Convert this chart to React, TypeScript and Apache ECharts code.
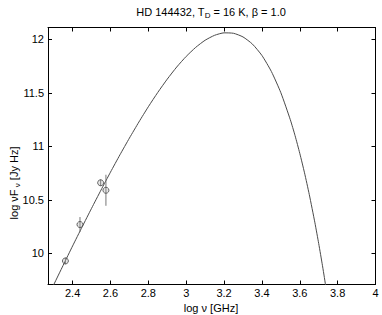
import React, { useEffect, useRef } from "react";
import * as echarts from "echarts";

const curveX = [2.27, 2.28, 2.3, 2.35, 2.4, 2.45, 2.5, 2.55, 2.6, 2.65, 2.7, 2.75, 2.8, 2.85, 2.9, 2.95, 3.0, 3.05, 3.1, 3.15, 3.2, 3.25, 3.3, 3.35, 3.4, 3.45, 3.5, 3.55, 3.575, 3.6, 3.625, 3.65, 3.68, 3.7, 3.72, 3.73, 3.74, 3.75];
const curveY = [9.6, 9.634, 9.707, 9.889, 10.07, 10.247, 10.421, 10.592, 10.759, 10.921, 11.077, 11.227, 11.37, 11.504, 11.628, 11.741, 11.84, 11.924, 11.991, 12.037, 12.06, 12.056, 12.022, 11.955, 11.849, 11.699, 11.501, 11.249, 11.101, 10.935, 10.753, 10.552, 10.286, 10.092, 9.885, 9.775, 9.66, 9.545];

const pointX = [2.362, 2.439, 2.548, 2.576];
const pointY = [9.93, 10.27, 10.66, 10.59];
const pointErr = [0.03, 0.07, 0.03, 0.145];

const xTicks = [2.4, 2.6, 2.8, 3, 3.2, 3.4, 3.6, 3.8, 4];
const yTicks = [10, 10.5, 11, 11.5, 12];

const FONT = "'Liberation Sans', Arial, Helvetica, sans-serif";

export default function App() {
  const ref = useRef<HTMLDivElement>(null);
  useEffect(() => {
    if (!ref.current) return;
    const chart = echarts.init(ref.current, undefined, { renderer: "svg" });
    const axisLine = { show: true, lineStyle: { color: "#000", width: 1 } };
    const xBase = {
      type: "value" as const,
      min: 2.27,
      max: 4,
      splitLine: { show: false },
      axisLine,
      axisTick: { show: true, inside: true, length: 4, customValues: xTicks, lineStyle: { color: "#000" } },
    };
    const yBase = {
      type: "value" as const,
      min: 9.71,
      max: 12.11,
      splitLine: { show: false },
      axisLine,
      axisTick: { show: true, inside: true, length: 4, customValues: yTicks, lineStyle: { color: "#000" } },
    };
    chart.setOption({
      animation: false,
      grid: { left: 48, right: 6.5, top: 27.5, bottom: 30.5, containLabel: false },
      xAxis: [
        {
          ...xBase,
          position: "bottom",
          axisLabel: {
            show: true,
            customValues: xTicks,
            formatter: (v: number) => String(v),
            color: "#000",
            fontSize: 11,
            fontFamily: FONT,
            margin: 3,
          },
        },
        { ...xBase, position: "top", axisLabel: { show: false } },
      ],
      yAxis: [
        {
          ...yBase,
          position: "left",
          axisLabel: {
            show: true,
            customValues: yTicks,
            formatter: (v: number) => String(v),
            color: "#000",
            fontSize: 11,
            fontFamily: FONT,
            margin: 4,
          },
        },
        { ...yBase, position: "right", axisLabel: { show: false } },
      ],
      graphic: [
        {
          type: "text",
          x: 211,
          y: 12,
          style: {
            text: "HD 144432, T{sub|D} = 16 K, β = 1.0",
            fontSize: 11,
            fontFamily: FONT,
            fill: "#000",
            align: "center",
            verticalAlign: "middle",
            rich: { sub: { fontSize: 8, padding: [6, 0, 0, 0], fontFamily: FONT } },
          },
        },
        {
          type: "text",
          x: 211,
          y: 307.5,
          style: {
            text: "log ν [GHz]",
            fontSize: 11,
            fontFamily: FONT,
            fill: "#000",
            align: "center",
            verticalAlign: "middle",
          },
        },
        {
          type: "text",
          x: 14,
          y: 183,
          rotation: Math.PI / 2,
          style: {
            text: "log νF{sub| ν} [Jy Hz]",
            fontSize: 11,
            fontFamily: FONT,
            fill: "#000",
            align: "center",
            verticalAlign: "middle",
            rich: { sub: { fontSize: 8, padding: [6, 0, 0, 0], fontFamily: FONT } },
          },
        },
      ],
      series: [
        {
          type: "line",
          data: curveX.map((x, i) => [x, curveY[i]]),
          showSymbol: false,
          smooth: 0.2,
          lineStyle: { color: "#4a4a4a", width: 1 },
          clip: true,
          z: 2,
        },
        {
          type: "custom",
          data: pointX.map((x, i) => [x, pointY[i], pointErr[i]]),
          clip: true,
          z: 3,
          renderItem: (params: any, api: any) => {
            const x = api.value(0);
            const y = api.value(1);
            const e = api.value(2);
            const top = api.coord([x, y + e]);
            const bot = api.coord([x, y - e]);
            return {
              type: "line",
              shape: { x1: top[0], y1: top[1], x2: bot[0], y2: bot[1] },
              style: { stroke: "#777", lineWidth: 1 },
            };
          },
        },
        {
          type: "scatter",
          data: pointX.map((x, i) => [x, pointY[i]]),
          symbol: "circle",
          symbolSize: 6,
          itemStyle: { color: "rgba(160,160,160,0.35)", borderColor: "#444", borderWidth: 1 },
          z: 4,
        },
      ],
    });
    return () => chart.dispose();
  }, []);
  return <div ref={ref} style={{ position: "fixed", left: 0, top: 0, width: 382, height: 315, background: "#fff" }} />;
}
